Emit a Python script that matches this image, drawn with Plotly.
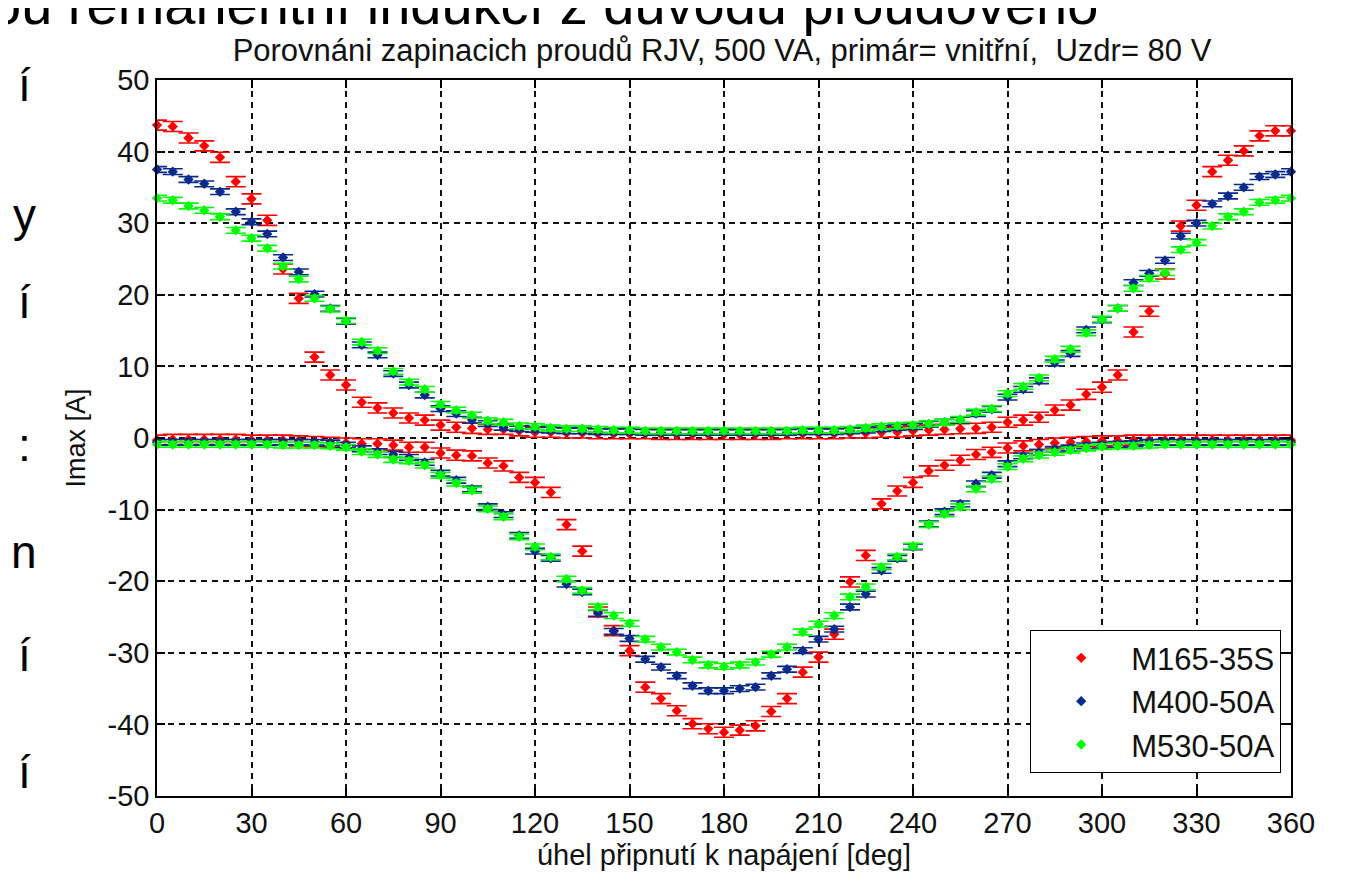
import plotly.graph_objects as go

# ---------------- data ----------------
ANGLES = list(range(0, 361, 5))  # 73 angles, deg

SERIES = ["M165-35S", "M400-50A", "M530-50A"]

RED_POS = [43.7, 43.5, 41.9, 40.8, 39.2, 35.8, 33.4, 30.4, 23.6, 19.5, 11.3, 8.8, 7.4, 5.0, 4.2, 3.5, 2.8, 2.5, 1.8,
           1.5, 1.35, 1.2, 1.2, 1.0, 0.8, 0.8, 0.7, 0.7, 0.6, 0.6, 0.6, 0.6, 0.5, 0.5, 0.5, 0.5, 0.5,
           0.5, 0.5, 0.5, 0.6, 0.6, 0.6, 0.6, 0.7, 0.7, 0.8, 0.85, 1.0, 1.1, 1.2, 1.3, 1.35, 1.5,
           2.2, 2.5, 2.9, 3.9, 4.6, 6.1, 7.1, 8.8, 14.8, 17.7, 22.9, 29.6, 32.5, 37.2, 38.8, 40.1, 42.2, 42.9, 42.9]
RED_NEG = [-0.3, -0.2, -0.2, -0.2, -0.2, -0.2, -0.3, -0.3, -0.3, -0.4, -0.5, -0.6, -0.7, -0.8, -0.8, -1.0, -1.3, -1.3, -2.1,
           -2.4, -2.5, -3.5, -3.9, -5.5, -6.2, -7.6, -12.1, -15.8, -24.3, -26.9, -29.7, -34.8, -36.4, -38.1, -39.9, -40.6, -41.1,
           -40.8, -40.2, -38.2, -36.4, -32.7, -30.6, -27.4, -20.1, -16.4, -9.2, -7.4, -6.2, -4.6, -3.8, -3.1, -2.3, -2.0,
           -1.4, -1.1, -0.9, -0.7, -0.6, -0.5, -0.4, -0.4, -0.3, -0.3, -0.3, -0.3, -0.3, -0.3, -0.3, -0.3, -0.3, -0.3, -0.3]

BLUE_POS = [37.5, 37.2, 36.1, 35.5, 34.4, 31.6, 30.2, 28.5, 25.2, 23.2, 20.1, 18.1, 16.3, 13.0, 11.6, 9.0, 7.4, 6.0, 4.1,
            3.4, 2.5, 2.0, 1.5, 1.3, 1.2, 1.1, 1.0, 1.0, 0.9, 0.9, 0.9, 0.8, 0.8, 0.8, 0.8, 0.8, 0.8,
            0.8, 0.8, 0.8, 0.8, 0.9, 0.9, 0.9, 1.0, 1.1, 1.3, 1.5, 1.6, 1.9, 2.2, 2.5, 3.4, 4.0,
            5.7, 6.8, 8.0, 10.5, 11.8, 15.1, 16.5, 18.1, 21.7, 23.0, 24.8, 28.2, 30.0, 32.7, 33.8, 35.0, 36.5, 36.8, 37.2]
BLUE_NEG = [-0.6, -0.6, -0.6, -0.6, -0.6, -0.6, -0.6, -0.6, -0.6, -0.6, -0.6, -0.7, -1.0, -1.5, -1.9, -2.3, -2.7, -3.4, -4.9,
            -5.9, -7.1, -9.6, -10.7, -13.6, -15.8, -16.8, -20.4, -21.5, -24.5, -27.0, -28.0, -30.9, -32.0, -33.2, -34.6, -35.3, -35.3,
            -35.0, -34.8, -33.2, -32.3, -29.7, -28.1, -26.7, -23.6, -21.8, -18.5, -16.8, -15.2, -12.0, -10.3, -9.2, -6.4, -5.2,
            -3.6, -2.5, -2.0, -1.6, -1.4, -1.1, -1.0, -0.9, -0.8, -0.6, -0.6, -0.6, -0.6, -0.6, -0.6, -0.6, -0.6, -0.6, -0.6]

GREEN_POS = [33.5, 33.2, 32.4, 31.8, 30.9, 29.0, 27.9, 26.5, 24.0, 22.2, 19.5, 18.0, 16.4, 13.4, 12.2, 9.3, 7.8, 6.8, 4.7,
             3.9, 3.2, 2.4, 2.2, 1.7, 1.6, 1.4, 1.3, 1.3, 1.2, 1.1, 1.1, 1.0, 1.0, 1.0, 1.0, 1.0, 1.0,
             1.0, 1.0, 1.0, 1.0, 1.1, 1.1, 1.1, 1.2, 1.4, 1.6, 1.7, 1.8, 2.0, 2.2, 2.6, 3.6, 4.1,
             6.2, 7.2, 8.4, 11.0, 12.4, 14.7, 16.6, 18.1, 20.9, 22.3, 23.1, 26.3, 27.3, 29.6, 30.9, 31.6, 32.9, 33.2, 33.5]
GREEN_NEG = [-0.9, -0.9, -0.9, -0.9, -0.9, -0.9, -0.9, -0.9, -1.0, -1.0, -1.0, -1.1, -1.3, -1.9, -2.3, -3.0, -3.2, -3.8, -5.2,
             -6.3, -7.3, -9.9, -11.0, -13.8, -15.2, -16.6, -19.7, -21.3, -23.6, -24.8, -25.9, -28.1, -29.2, -29.9, -31.0, -31.7, -31.9,
             -31.7, -31.3, -30.2, -29.2, -27.1, -26.0, -24.8, -22.2, -20.8, -18.0, -16.6, -15.1, -12.1, -10.6, -9.6, -7.1, -5.7,
             -4.0, -2.9, -2.4, -2.0, -1.7, -1.4, -1.2, -1.1, -1.1, -1.0, -0.9, -0.9, -0.9, -0.9, -0.9, -0.9, -0.9, -0.9, -0.9]

ERRORS = [0.7, 0.4, 0.4]  # A, measurement uncertainty per series

X_TICKS = list(range(0, 361, 30))
Y_TICKS = list(range(-50, 51, 10))

TITLE = "Porovnáni zapinacich proudů RJV, 500 VA, primár= vnitřní,  Uzdr= 80 V"
X_LABEL = "úhel připnutí k napájení [deg]"
Y_LABEL = "Imax [A]"

SLIDE_TOP = "ou remanentní indukcí z důvodu proudového"
SLIDE_LEFT = ["í", "y", "í", ":", "n", "í", "í"]

# ---------------- style ----------------
COLORS = ["#ff0000", "#0a2a8c", "#00ff00"]
FONT = "Liberation Sans, Arial, sans-serif"
# the page body adds an 8 px offset, so the figure is 8 px smaller each way
OFF = 8
W, H = 1349 - OFF, 873 - OFF
L, R, T, B = 157 - OFF, 58, 80 - OFF, 77
PW, PH = W - L - R, H - T - B


def px_x(px):  # page pixel -> paper x
    return (px - OFF - L) / PW


def px_y(py):  # page pixel -> paper y
    return (H - B - (py - OFF)) / PH


pos = [RED_POS, BLUE_POS, GREEN_POS]
neg = [RED_NEG, BLUE_NEG, GREEN_NEG]

fig = go.Figure()
for i, name in enumerate(SERIES):
    fig.add_trace(go.Scatter(
        x=ANGLES + ANGLES,
        y=pos[i] + neg[i],
        mode="markers",
        name=name,
        legendgroup=name,
        marker=dict(symbol="diamond", size=8, color=COLORS[i]),
        error_y=dict(type="constant", value=ERRORS[i], color=COLORS[i],
                     thickness=1.6, width=10),
        cliponaxis=False,
    ))

axis_common = dict(
    showline=True, linecolor="black", linewidth=1.5, mirror="ticks",
    ticks="inside", ticklen=8, tickwidth=1.5, tickcolor="black",
    showgrid=True, gridcolor="#111111", gridwidth=1.8, griddash="6px,5px",
    zeroline=False,
    tickfont=dict(family=FONT, size=29, color="#111111"),
)

fig.update_xaxes(range=[0, 360], tickvals=X_TICKS, ticktext=[str(v) for v in X_TICKS],
                 title=dict(text=X_LABEL, font=dict(family=FONT, size=29, color="#111111"), standoff=2),
                 **axis_common)
fig.update_yaxes(range=[-50, 50], tickvals=Y_TICKS, ticktext=[str(v) for v in Y_TICKS],
                 title=dict(text=Y_LABEL, font=dict(family=FONT, size=27, color="#111111"), standoff=14),
                 **axis_common)

annotations = [
    dict(text=SLIDE_TOP, xref="paper", yref="paper", x=px_x(-12), y=px_y(38),
         xanchor="left", yanchor="bottom", showarrow=False,
         font=dict(family=FONT, size=56, color="black")),
]
left_y = [85, 215, 302, 445, 552, 655, 772]
for ch, py in zip(SLIDE_LEFT, left_y):
    annotations.append(dict(text=ch, xref="paper", yref="paper", x=px_x(24),
                            y=px_y(py), xanchor="center", yanchor="middle",
                            showarrow=False, font=dict(family=FONT, size=46, color="black")))

fig.update_layout(
    width=W, height=H,
    margin=dict(l=L, r=R, t=T, b=B, autoexpand=False),
    paper_bgcolor="white", plot_bgcolor="white",
    title=dict(text=TITLE, x=(722 - OFF) / W, xanchor="center",
               y=1 - (50 - OFF) / H, yanchor="middle", yref="container",
               font=dict(family=FONT, size=31, color="#111111")),
    legend=dict(x=px_x(1281), y=px_y(773),
                xanchor="right", yanchor="bottom",
                bordercolor="black", borderwidth=1.2, bgcolor="white",
                font=dict(family=FONT, size=31, color="#111111"),
                itemwidth=90, tracegroupgap=0),
    annotations=annotations,
    showlegend=True,
)

fig.write_html("out.html")
